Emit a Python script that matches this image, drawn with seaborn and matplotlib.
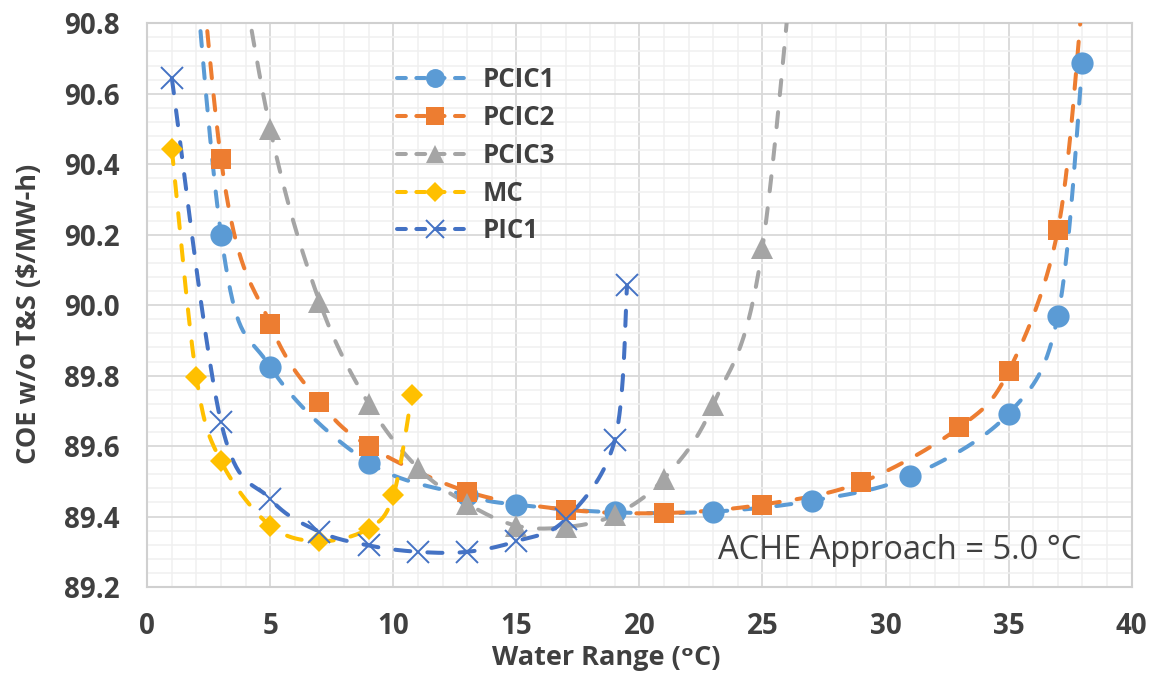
import numpy as np
import pandas as pd
import matplotlib
matplotlib.use("Agg")
import matplotlib.pyplot as plt
from matplotlib.lines import Line2D
from matplotlib.ticker import MultipleLocator, FormatStrFormatter
import seaborn as sns

# ---- data ----
pcic1_x = [1, 3, 5, 9, 13, 15, 19, 23, 27, 31, 35, 37, 38]
pcic1_y = [91.8, 90.20, 89.825, 89.553, 89.46, 89.434, 89.412, 89.414, 89.445, 89.514, 89.692, 89.968, 90.688]

pcic2_x = [1, 3, 5, 7, 9, 13, 17, 21, 25, 29, 33, 35, 37, 38]
pcic2_y = [92.0, 90.414, 89.946, 89.726, 89.60, 89.471, 89.42, 89.41, 89.434, 89.497, 89.653, 89.812, 90.212, 90.87]

pcic3_x = [3, 5, 7, 9, 11, 13, 15, 17, 19, 21, 23, 25, 27]
pcic3_y = [91.3, 90.50, 90.01, 89.72, 89.538, 89.437, 89.374, 89.37, 89.405, 89.508, 89.718, 90.163, 91.6]

mc_x = [1, 2, 3, 5, 7, 9, 10, 10.75]
mc_y = [90.443, 89.795, 89.557, 89.374, 89.33, 89.366, 89.46, 89.746]

pic1_x = [1, 3, 5, 7, 9, 11, 13, 15, 17, 19, 19.5]
pic1_y = [90.644, 89.668, 89.45, 89.357, 89.318, 89.30, 89.30, 89.33, 89.392, 89.617, 90.056]

series_names = ["PCIC1", "PCIC2", "PCIC3", "MC", "PIC1"]
annotation = "ACHE Approach = 5.0 °C"
x_label = "Water Range (ᵒC)"
y_label = "COE w/o T&S ($/MW-h)"

series = {
    "PCIC1": (pcic1_x, pcic1_y),
    "PCIC2": (pcic2_x, pcic2_y),
    "PCIC3": (pcic3_x, pcic3_y),
    "MC": (mc_x, mc_y),
    "PIC1": (pic1_x, pic1_y),
}
colors = {"PCIC1": "#5B9BD5", "PCIC2": "#ED7D31", "PCIC3": "#A5A5A5",
          "MC": "#FFC000", "PIC1": "#4472C4"}
markers = {"PCIC1": "o", "PCIC2": "s", "PCIC3": "^", "MC": "D", "PIC1": "x"}
msizes = {"PCIC1": 16, "PCIC2": 15, "PCIC3": 16, "MC": 11.5, "PIC1": 16}


def smooth(xs, ys, n=40):
    """Excel-like smoothed line: Bezier segments with Catmull-Rom control points."""
    P = np.column_stack([xs, ys]).astype(float)
    m = len(P)
    out = []
    t = np.linspace(0, 1, n)
    for i in range(m - 1):
        p0 = P[i - 1] if i > 0 else P[i]
        p1 = P[i]
        p2 = P[i + 1]
        p3 = P[i + 2] if i + 2 < m else P[i + 1]
        b1 = p1 + (p2 - p0) / 6.0
        b2 = p2 - (p3 - p1) / 6.0
        seg = ((1 - t) ** 3)[:, None] * p1 + (3 * (1 - t) ** 2 * t)[:, None] * b1 \
            + (3 * (1 - t) * t ** 2)[:, None] * b2 + (t ** 3)[:, None] * p2
        out.append(seg if i == 0 else seg[1:])
    c = np.vstack(out)
    return c[:, 0], c[:, 1]


sns.set_theme(style="white")
plt.rcParams["font.family"] = ["Open Sans", "DejaVu Sans"]

fig = plt.figure(figsize=(11.5, 6.85), dpi=100)
ax = fig.add_axes([0.128, 0.143, 0.856, 0.823])

lw = 2.9
dash = (3.75, 4.25)
for name in series_names:
    xs, ys = series[name]
    sx, sy = smooth(xs, ys)
    df = pd.DataFrame({"x": sx, "y": sy})
    sns.lineplot(data=df, x="x", y="y", sort=False, estimator=None, ax=ax,
                 color=colors[name], lw=lw, zorder=3)
    ln = ax.lines[-1]
    ln.set_linestyle((0, dash))
    ln.set_dash_capstyle("round")
    mk = markers[name]
    if mk == "x":
        ax.plot(xs, ys, linestyle="none", marker="x", markersize=msizes[name],
                markeredgewidth=1.4, color=colors[name], zorder=4)
    else:
        ax.plot(xs, ys, linestyle="none", marker=mk, markersize=msizes[name],
                markeredgewidth=0, color=colors[name], zorder=4)

ax.set_xlim(0, 40)
ax.set_ylim(89.2, 90.8)
ax.xaxis.set_major_locator(MultipleLocator(5))
ax.xaxis.set_minor_locator(MultipleLocator(1))
ax.yaxis.set_major_locator(MultipleLocator(0.2))
ax.yaxis.set_minor_locator(MultipleLocator(0.04))
ax.yaxis.set_major_formatter(FormatStrFormatter("%.1f"))
ax.grid(True, which="major", color="#D9D9D9", lw=1.3, zorder=0)
ax.grid(True, which="minor", color="#F0F0F0", lw=1.1, zorder=0)
ax.set_axisbelow(True)
for s in ax.spines.values():
    s.set_color("#D0D0D0")
    s.set_linewidth(1.5)
ax.tick_params(axis="both", which="both", length=0, labelsize=20,
               labelcolor="#404040")
ax.tick_params(axis="x", pad=18)
ax.tick_params(axis="y", pad=20)
for lab in ax.get_xticklabels() + ax.get_yticklabels():
    lab.set_fontweight("bold")

ax.set_xlabel(x_label, fontsize=19.5, fontweight="bold", color="#404040")
ax.set_ylabel(y_label, fontsize=19.5, fontweight="bold", color="#404040")
ax.xaxis.set_label_coords(0.466, -0.103)
ax.yaxis.set_label_coords(-0.107, 0.484)

ax.text(37.97, 89.279, annotation, ha="right", va="baseline", fontsize=23.5,
        color="#404040")

handles = []
for name in series_names:
    mk = markers[name]
    h = Line2D([], [], color=colors[name], lw=lw, linestyle=(0, (2.2, 2.6)),
               dash_capstyle="round",
               marker=mk, markersize=msizes[name] * 0.85,
               markeredgewidth=1.4 if mk == "x" else 0)
    handles.append(h)
leg = ax.legend(handles, series_names, loc="upper left",
                bbox_to_anchor=(0.23, 0.965), frameon=False,
                handlelength=3.0, handletextpad=0.35, labelspacing=0.42,
                prop={"weight": "bold", "size": 18.5})
for t in leg.get_texts():
    t.set_color("#404040")

fig.savefig("out.png", dpi=100)
